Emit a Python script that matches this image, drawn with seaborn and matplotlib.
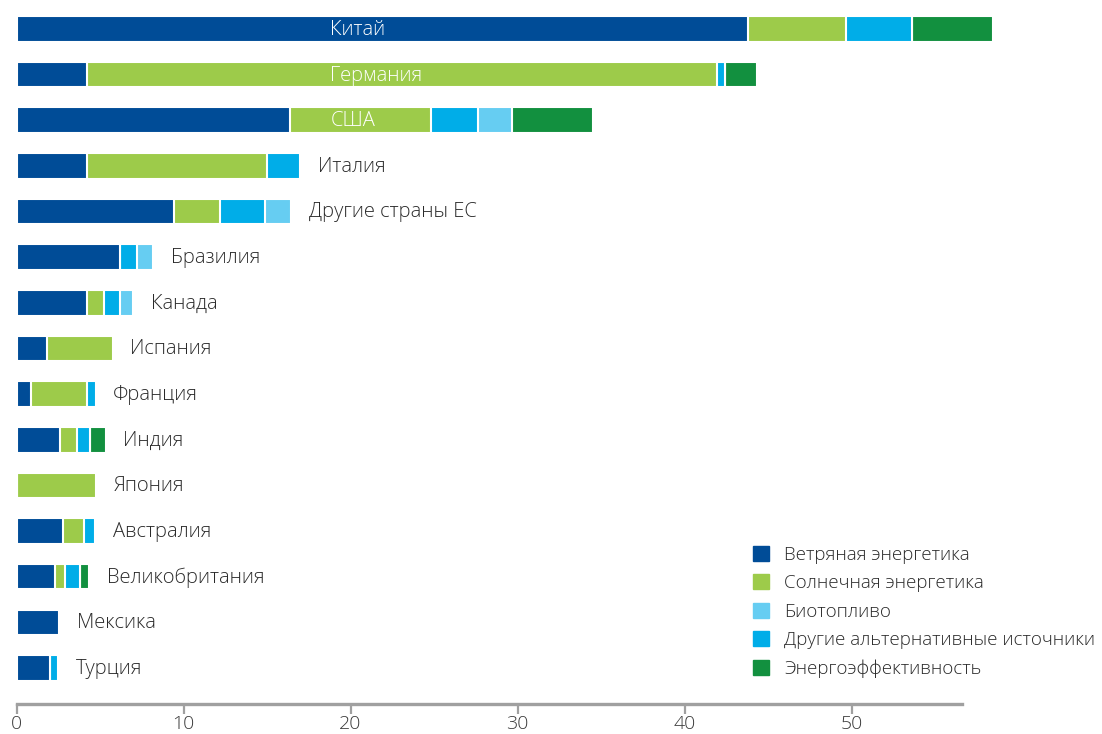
import matplotlib
matplotlib.use("Agg")
import matplotlib.pyplot as plt
import matplotlib.patches as mpatches
import numpy as np
import pandas as pd
import seaborn as sns

countries = ["Китай", "Германия", "США", "Италия", "Другие страны ЕС", "Бразилия",
             "Канада", "Испания", "Франция", "Индия", "Япония", "Австралия",
             "Великобритания", "Мексика", "Турция"]
wind = [43.8, 4.25, 16.4, 4.25, 9.45, 6.2, 4.25, 1.85, 0.85, 2.6, 0.0, 2.8, 2.3, 2.55, 2.0]
solar = [5.9, 37.7, 8.4, 10.75, 2.75, 0.0, 1.0, 3.9, 3.4, 1.0, 4.75, 1.25, 0.6, 0.0, 0.0]
other_alt = [3.9, 0.45, 2.85, 2.0, 2.7, 1.0, 0.95, 0.0, 0.5, 0.8, 0.0, 0.65, 0.9, 0.0, 0.5]
biofuel = [0.0, 0.0, 2.0, 0.0, 1.55, 1.0, 0.8, 0.0, 0.0, 0.0, 0.0, 0.0, 0.0, 0.0, 0.0]
efficiency = [4.85, 1.95, 4.9, 0.0, 0.0, 0.0, 0.0, 0.0, 0.0, 0.95, 0.0, 0.0, 0.55, 0.0, 0.0]
inside_labels = ["Китай", "Германия", "США"]

legend_labels = ["Ветряная энергетика", "Солнечная энергетика", "Биотопливо",
                 "Другие альтернативные источники", "Энергоэффективность"]
colors = {"wind": "#004C97", "solar": "#9DCB4A", "bio": "#66CDF2",
          "other": "#00ADE8", "eff": "#12903F"}

df = pd.DataFrame({"country": countries, "wind": wind, "solar": solar,
                   "other": other_alt, "bio": biofuel, "eff": efficiency})
stack = ["wind", "solar", "other", "bio", "eff"]
cum = df[stack].cumsum(axis=1)

sns.set_style("white")
plt.rcParams["font.family"] = ["Open Sans", "DejaVu Sans"]
plt.rcParams["font.weight"] = "light"

fig = plt.figure(figsize=(11.02, 7.34), dpi=100)
left = 16.5 / 1102
ax = fig.add_axes([left, 30 / 734, 1 - left, 704 / 734])

# overlay cumulative bars, longest first
for key in reversed(stack):
    sns.barplot(x=cum[key], y=df["country"], orient="h", color=colors[key],
                width=0.56, edgecolor="white", linewidth=1.5, saturation=1, ax=ax)

totals = cum["eff"]
for i, name in enumerate(countries):
    if name in inside_labels:
        ax.text(18.8, i + 0.02, name, color="white", fontsize=14.5, va="center", ha="left")
    else:
        ax.text(totals[i] + 1.05, i + 0.02, name, color="#2a2a2a", fontsize=14.5,
                va="center", ha="left")

ax.set_xlim(0, 65)
ax.set_ylim(14.79, -0.635)
ax.set_xlabel("")
ax.set_ylabel("")
ax.set_yticks([])
ax.set_xticks([0, 10, 20, 30, 40, 50])
for s in ["top", "right", "left"]:
    ax.spines[s].set_visible(False)
ax.spines["bottom"].set_color("#a0a0a0")
ax.spines["bottom"].set_linewidth(2.4)
ax.spines["bottom"].set_bounds(0, 56.6)
ax.tick_params(axis="x", direction="out", length=7, width=1.6, color="#a0a0a0",
               labelsize=14, labelcolor="#3a3a3a", pad=1, bottom=True)

handles = [mpatches.Patch(color=colors[k]) for k in ["wind", "solar", "bio", "other", "eff"]]
fig.legend(handles, legend_labels, loc="upper left",
           bbox_to_anchor=(753 / 1102, 1 - 546 / 734), frameon=False,
           fontsize=13.5, labelcolor="#2a2a2a", handlelength=0.85, handleheight=0.85,
           handletextpad=0.8, labelspacing=0.55, borderpad=0, borderaxespad=0)

fig.savefig("out.png", dpi=100)
